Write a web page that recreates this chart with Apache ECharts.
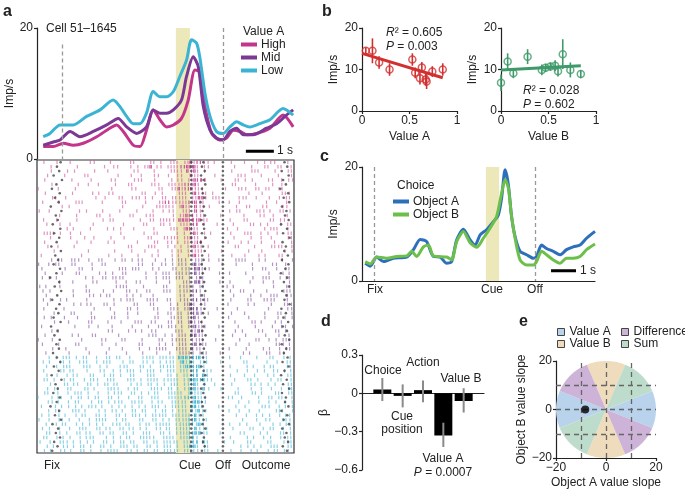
<!DOCTYPE html>
<html><head><meta charset="utf-8">
<script src="https://cdn.jsdelivr.net/npm/echarts@6/dist/echarts.min.js"></script>
<style>html,body{margin:0;padding:0;background:#fff}#c{width:685px;height:490px}</style>
</head><body><div id="c"></div>
<script>
// ---------------- Panel a: PSTH (time s from Fix, firing rate imp/s) ----------------
const psthHigh = [[-0.67,1.9],[-0.31,1.9],[0.05,2.4],[0.40,2.1],[0.76,2.4],[1.24,3.4],[1.71,4.7],[1.95,5.2],[2.19,4.2],[2.55,2.1],[2.79,1.9],[3.02,4.4],[3.26,7.5],[3.5,6.0],[3.74,4.9],[3.98,5.2],[4.27,6.2],[4.51,9.0],[4.75,13.6],[4.93,13.3],[5.11,8.0],[5.35,3.9],[5.64,2.9],[5.88,3.2],[6.12,4.4],[6.36,4.2],[6.6,3.7],[6.95,3.9],[7.43,4.7],[7.9,6.7],[8.26,4.9]];
const psthMid = [[-0.67,2.1],[-0.31,2.6],[-0.07,2.9],[0.29,4.2],[0.64,3.4],[1.12,4.2],[1.60,5.2],[2.01,6.2],[2.31,4.9],[2.67,3.9],[3.02,4.9],[3.26,7.5],[3.5,7.0],[3.74,7.0],[3.98,7.5],[4.27,9.0],[4.45,12.6],[4.69,15.6],[4.87,14.1],[5.05,8.0],[5.29,4.4],[5.52,3.2],[5.76,2.9],[6.0,4.2],[6.24,4.7],[6.48,3.7],[6.83,3.7],[7.31,4.7],[7.67,5.4],[8.02,6.7],[8.26,7.5]];
const psthLow = [[-0.67,3.4],[-0.43,3.9],[-0.07,5.2],[0.40,5.2],[0.88,6.5],[1.36,7.5],[1.83,9.0],[2.07,8.0],[2.31,6.5],[2.55,5.4],[2.79,5.4],[3.02,7.0],[3.26,10.3],[3.5,9.5],[3.74,9.5],[3.98,10.3],[4.21,12.6],[4.45,15.1],[4.63,18.2],[4.81,17.7],[4.93,15.4],[5.11,10.0],[5.29,6.5],[5.52,4.2],[5.76,3.9],[6.0,4.9],[6.24,5.7],[6.48,5.2],[6.71,4.9],[7.07,5.4],[7.43,6.0],[7.9,7.7],[8.26,6.7]];
const eventsA = {fix:0, cueStart:4.07, cue:4.57, off:5.75};
const scaleBarA = [[6.57,1.2],[7.57,1.2]];

// Raster: spike counts per 1/7-s bin (64 bins from -0.893 s), one string per trial
const rasterHigh = [
"01000100 10000110 00100001 10001110 01111121 21101000 10010001 10110010",
"00010000 00100000 10011001 01112011 11112232 11100000 01000100 11001101",
"10010001 01000010 01000000 11000100 01111212 11000000 10000111 00010011",
"00100010 00011000 00001001 00100110 10011021 10001000 00111000 10001001",
"01000000 10000100 00110000 11100100 01011112 22100010 01101100 01100111",
"00010000 00101001 00010011 00001110 11111212 10000000 11000010 00100100",
"10000100 01000000 00100001 10000011 01121221 11000001 00111011 01101100",
"00100000 10000101 01100000 00110101 00011112 11110000 00000100 10000111",
"00011001 00000010 01001101 11011001 11111111 22111100 00111010 00101011",
"01000100 01110000 10000110 00010011 21111122 11000100 10100000 01010010",
"00000010 10000000 00000100 00100111 11112112 11010000 01001100 11000110",
"10010000 00101000 10001000 10000101 01101112 10000000 11100011 10101101",
"00000100 01000011 00100001 10011100 00111221 11000100 00010001 10010010",
"01001000 01000000 10110000 01001111 11122222 21100000 10011000 00111100",
"00100100 10000010 00000100 00110011 01011112 11000100 01000111 01001011",
"00000001 01000100 01011000 10000100 01111221 10000001 00100000 10111010",
"11111100 10100000 00001000 00100110 00011012 11010000 10011100 11001011",
"00010000 10010010 00100100 00011001 11111121 11000000 01000100 10100011",
"01000000 00100100 01010000 01000110 11011111 21000001 00011000 10010001",
"00100100 01000000 00000011 00011100 10101112 11100000 01100010 00111101",
"00001000 00001000 00010001 00100010 01011111 11000010 00001000 10000011",
"01000000 00010000 01000100 01001010 01010112 10100000 10001001 01001100"];
const rasterMid = [
"00010110 11101001 10010111 01100100 11011101 11100100 01111001 01000101",
"10101100 11000100 11000000 01101001 11011112 11000010 01000100 00110010",
"01000001 00110100 00001111 11001010 01101112 21110000 00000100 11010011",
"00100010 01100001 01100110 00010101 11111112 11000100 10001000 00100101",
"01011000 00001100 11111100 00010101 11111011 11000000 00000010 11101011",
"00000100 10000110 00010010 11000100 01001112 21000100 10000100 10010001",
"10100100 00001000 00011110 00100001 10011111 11000001 01000000 00010011",
"01010000 01001100 10010011 10011001 11011112 10000000 10110010 01000111",
"00100000 01000111 01100010 11000100 00011011 11000000 01000101 00111011",
"01010101 00001000 00011011 10011110 11011102 11100000 10001100 11110010",
"00100000 01101100 11010000 11001100 01011121 11000001 00001010 00100111",
"01000010 00000010 00100011 01000110 01111122 11000100 00100000 01000011",
"10001000 11000100 00010010 01000010 11011112 11100000 10010000 10001101",
"01010010 00100110 00110010 00000110 01111112 10000001 00001000 01001011",
"00001001 00001100 01000100 11101100 11011121 11000000 01000110 10010100",
"01000000 01001001 00100001 00010011 11101112 11100100 00100010 00100111",
"00010100 00000000 01100010 10101100 00111011 21000000 01010001 10011010",
"00100000 10100110 00001000 00011100 11011122 11000000 10001000 01001001",
"10010000 00010000 11000110 00100011 01111111 11001000 00100011 00110111",
"01000100 01100000 10010000 01100010 11011112 11100000 01000100 00011101",
"00010001 00001000 00100100 01001111 10111121 10000000 10001000 10101011",
"00100000 10000100 01000010 00100100 01011111 11100100 00010100 01101100"];
const rasterLow = [
"00011011 11011010 01111001 00111111 11122222 21100000 10100010 00110101",
"01010110 10111010 11100101 10110110 11112121 11100100 00011000 01001011",
"00101011 10011101 01001110 01101011 11111222 21000000 10001010 10110011",
"01000110 11001001 10011011 11011110 11111112 11110000 00101001 10011101",
"00100101 01100110 10111001 10011100 11011112 12100000 10010010 01010011",
"01101010 11010111 01110011 11011111 11111122 22110000 01001101 00101101",
"10010011 01101101 11011001 01111011 01111112 11001000 10000110 11010011",
"00101101 10011010 01111010 11001111 11011122 12100010 00100100 10100111",
"01100101 01111001 01011101 10110110 11111121 11000000 01100110 10011011",
"10010110 10111011 01101010 01101110 11111212 11100001 10010001 01101101",
"00110101 01100101 11011101 11101011 01111112 21100000 00101001 00110011",
"01001011 01011110 10101011 01011110 11111122 11000100 01001000 11101011",
"00101100 11101001 01110101 10110101 11011121 21100000 10100101 00011101",
"01100101 01011011 01011011 11011111 11111112 11000000 01001010 10101011",
"10010110 10100111 11010110 01101101 01111122 11100010 00010010 01100111",
"00101011 01010110 10111011 01011111 11111121 21000000 10101001 00011011",
"01010100 10111011 01101101 11010110 11111112 11100000 01000110 10110101",
"00110101 01101101 10110110 10111011 01111122 21100100 00110001 01001101",
"01101010 10101110 01011011 01111101 11111121 11000000 10001010 10101011",
"10010111 01101010 11011101 10110111 11111112 12100010 01001100 01100111",
"00101011 01110101 10101110 11011011 11011122 11100000 00101010 10111011",
"01010110 10110101 01111011 01110111 11111111 11100100 10010101 01011110"];
// per-trial event times (s)
const fixDots = [-0.05,-0.18,-0.1,-0.3,0.0,-0.2,-0.36,-0.08,-0.25,-0.12,-0.4,-0.02,-0.22,-0.15,-0.33,-0.06,-0.28,-0.1,-0.19,-0.38,-0.04,-0.24,
 -0.14,-0.3,-0.07,-0.2,-0.42,-0.1,-0.26,-0.03,-0.17,-0.35,-0.09,-0.21,-0.13,-0.3,-0.05,-0.39,-0.16,-0.27,-0.08,-0.2,-0.11,-0.32,
 -0.18,-0.06,-0.29,-0.12,-0.37,-0.02,-0.23,-0.15,-0.31,-0.08,-0.19,-0.41,-0.1,-0.25,-0.04,-0.34,-0.14,-0.22,-0.07,-0.28,-0.16,-0.35];
const respDots = [5.05,5.0,5.1,4.97,5.06,5.12,5.0,5.03,5.09,4.95,5.07,5.02,5.11,4.98,5.05,5.08,5.0,5.13,4.96,5.04,5.1,5.01,
 5.06,4.99,5.11,5.03,4.96,5.08,5.02,5.12,5.0,5.05,4.97,5.09,5.04,5.1,4.98,5.06,5.01,5.13,5.03,4.95,5.07,5.0,
 5.04,5.1,4.98,5.06,5.12,5.01,5.08,4.97,5.05,5.11,5.0,5.03,5.09,4.96,5.06,5.02,5.12,4.99,5.07,5.04,5.1,5.0];
const outDots = [7.95,8.05,7.85,8.1,7.9,8.0,7.8,8.08,7.92,8.12,7.86,8.02,7.97,8.1,7.83,8.04,7.9,8.13,7.88,8.0,7.94,8.07,
 7.86,8.09,7.98,7.82,8.05,7.93,8.11,7.87,8.02,7.95,8.13,7.84,8.0,7.91,8.08,7.89,8.04,7.96,8.12,7.85,8.01,7.93,
 8.06,7.88,8.1,7.95,7.83,8.03,7.9,8.12,7.86,8.0,7.97,8.09,7.84,8.05,7.92,8.11,7.87,8.02,7.96,8.08,7.89,8.04];

// ---------------- Panel b ----------------
const valueAx = [0.04,0.11,0.18,0.29,0.53,0.56,0.63,0.61,0.67,0.68,0.74,0.85];
const valueAy = [14.5,14.5,11.7,10.0,12.4,9.2,10.5,7.9,7.6,7.1,9.5,10.0];
const valueAerr = [0.8,3.0,1.5,1.5,1.5,1.3,1.3,1.5,1.5,1.8,1.3,1.5];
const fitA = [[0,13.9],[0.85,8.0]];
const valueBx = [0.0,0.07,0.13,0.28,0.43,0.47,0.52,0.57,0.6,0.65,0.73,0.84];
const valueBy = [6.8,11.9,9.1,13.1,9.9,10.4,10.7,10.9,9.6,13.7,9.9,8.9];
const valueBerr = [2.0,2.0,1.2,1.8,1.3,1.0,1.0,1.3,1.3,3.6,1.8,1.0];
const fitB = [[0,9.9],[0.84,10.9]];

// ---------------- Panel c ----------------
const choiceA = [[-0.37,3.1],[-0.17,2.6],[0.09,4.2],[0.36,3.4],[0.76,4.0],[1.29,4.2],[1.56,5.5],[1.83,7.3],[2.09,6.9],[2.36,4.3],[2.63,4.2],[2.89,3.1],[3.09,3.4],[3.29,7.2],[3.56,9.1],[3.83,7.2],[4.03,6.3],[4.23,8.1],[4.49,9.0],[4.76,10.4],[4.96,11.6],[5.09,14.5],[5.23,19.5],[5.36,16.9],[5.49,11.3],[5.63,7.8],[5.83,5.2],[6.09,4.6],[6.36,4.0],[6.49,4.3],[6.69,6.3],[6.89,5.7],[7.16,5.2],[7.43,4.6],[7.69,5.5],[7.96,6.0],[8.23,6.3],[8.49,7.5],[8.83,8.7]];
const choiceB = [[-0.37,3.4],[-0.17,3.0],[0.09,4.2],[0.49,4.0],[0.89,4.3],[1.29,4.4],[1.49,5.2],[1.69,4.3],[1.96,6.0],[2.16,6.3],[2.36,4.4],[2.89,4.2],[3.09,3.7],[3.29,6.9],[3.56,8.7],[3.83,6.7],[4.09,5.9],[4.36,7.5],[4.63,9.3],[4.89,11.3],[5.09,15.4],[5.23,17.8],[5.36,16.3],[5.49,11.3],[5.63,7.5],[5.83,3.7],[6.09,2.8],[6.36,2.8],[6.49,3.4],[6.69,5.2],[6.89,4.6],[7.16,3.7],[7.43,3.1],[7.69,4.0],[7.96,4.0],[8.23,4.3],[8.49,5.5],[8.83,6.5]];
const eventsC = {fix:0, cueStart:4.46, cue:4.99, off:6.43};
const scaleBarC = [[7.07,1.8],[8.07,1.8]];

// ---------------- Panel d ----------------
const regressors = ['Choice','Cue position','Action','Value A','Value B'];
const betas = [0.03,-0.02,0.025,-0.33,-0.06];
const betaLo = [-0.06,-0.11,-0.07,-0.42,-0.15];
const betaHi = [0.12,0.07,0.10,-0.23,0.04];

// ---------------- Panel e ----------------
const sectorNames = ['Value A','Value B','Difference','Sum'];
const sectorCenters = [[0,180],[90,270],[135,315],[45,225]];
const sectorColors = ['#b9d3ec','#eedcbc','#cdb3d8','#bedccb'];
const circleRadius = 20;
const cellPoint = [[-8.3,0]];

// ================= build =================
const FONT = '"Liberation Sans", Arial, sans-serif';
const INK = '#222';
const minus = v => (v < 0 ? '\u2212' + String(Math.abs(+v.toFixed(3))) : String(+(+v).toFixed(3)));

const BIN0 = -0.893, BINW = 1/7;
const rasterColors = ['#c94e9a','#84509f','#3fb2d4'];
const spikes = [];
let row = 0;
[rasterHigh, rasterMid, rasterLow].forEach((rows, g) => rows.forEach(s => {
  const str = s.replace(/\s/g, '');
  for (let b = 0; b < str.length; b++) {
    const n = +str[b];
    for (let k = 0; k < n; k++) {
      // place the k-th spike of a bin inside that bin (layout only, deterministic)
      const h = Math.imul(row * 131 + b * 977 + k * 71 + 17, 2654435761) >>> 0;
      const slot = (k + ((h >>> 8) % 1000) / 1000) / n;
      spikes.push([BIN0 + (b + slot) * BINW, row + 0.5, g, n]);
    }
  }
  row++;
}));
const nRows = row;
const eventDots = [];
for (let i = 0; i < nRows; i++) {
  eventDots.push([fixDots[i], i + 0.5], [respDots[i], i + 0.5], [outDots[i], i + 0.5],
                 [eventsA.cue + 0.05, i + 0.5], [eventsA.off, i + 0.5]);
}

function xAx(grid, o) {
  return Object.assign({
    gridIndex: grid, type: 'value', splitLine: {show: false},
    axisLine: {show: true, onZero: false, lineStyle: {color: INK, width: 1.2}},
    axisTick: {show: true, length: 3, lineStyle: {color: INK, width: 1.2}},
    axisLabel: {color: INK, fontSize: 12, fontFamily: FONT, margin: 4},
    nameLocation: 'middle', nameTextStyle: {color: INK, fontSize: 12, fontFamily: FONT}
  }, o);
}
function yAx(grid, o) {
  return Object.assign({
    gridIndex: grid, type: 'value', splitLine: {show: false},
    axisLine: {show: true, onZero: false, lineStyle: {color: INK, width: 1.2}},
    axisTick: {show: true, length: 3, lineStyle: {color: INK, width: 1.2}},
    axisLabel: {color: INK, fontSize: 12, fontFamily: FONT, margin: 4},
    nameLocation: 'middle', nameTextStyle: {color: INK, fontSize: 12, fontFamily: FONT}
  }, o);
}
const hidden = {show: false};

function errRender(color, w) {
  return function (params, api) {
    const a = api.coord([api.value(0), api.value(1)]);
    const b = api.coord([api.value(0), api.value(2)]);
    return {type: 'line', shape: {x1: a[0], y1: a[1], x2: b[0], y2: b[1]},
            style: {stroke: color, lineWidth: w}};
  };
}
function bandSeries(x, y, ev, top) {
  return {
    type: 'line', xAxisIndex: x, yAxisIndex: y, data: [], z: 1, silent: true,
    markArea: {silent: true, itemStyle: {color: '#ece8b9'}, data: [[{xAxis: ev.cueStart}, {xAxis: ev.cue}]]},
    markLine: {silent: true, symbol: ['none','none'], label: {show: false},
      lineStyle: {color: '#999', type: [4,3], width: 1.3},
      data: [[{coord: [ev.fix, top]}, {coord: [ev.fix, 0]}], [{coord: [ev.off, 20]}, {coord: [ev.off, 0]}]]}
  };
}
function lineS(name, data, color, x, y, w) {
  return {name, type: 'line', xAxisIndex: x, yAxisIndex: y, data, showSymbol: false, smooth: 0.25,
          lineStyle: {color, width: w}, itemStyle: {color}, z: 3, silent: true};
}

const sectorSeries = sectorNames.map((nm, si) => ({
  name: nm, type: 'custom', xAxisIndex: 6, yAxisIndex: 6, z: 1, silent: true,
  itemStyle: {color: sectorColors[si]},
  data: sectorCenters[si].map(c => [c]),
  renderItem: function (params, api) {
    const c = api.value(0);
    const pts = [api.coord([0, 0])];
    for (let a = c - 22.5; a <= c + 22.5 + 1e-6; a += 1.5) {
      const r = a * Math.PI / 180;
      pts.push(api.coord([circleRadius * Math.cos(r), circleRadius * Math.sin(r)]));
    }
    return {type: 'polygon', shape: {points: pts}, style: {fill: sectorColors[si]}};
  }
}));

function txt(text, x, y, o) {
  return {type: 'text', silent: true, style: Object.assign({text, x, y, fill: INK, fontSize: 12, fontFamily: FONT,
    align: 'left', verticalAlign: 'middle'}, o || {})};
}
const rich = {i: {fontStyle: 'italic', fontSize: 12, fontFamily: FONT, fill: INK}};

const option = {
  backgroundColor: '#fff',
  animation: false,
  grid: [
    {left: 37, top: 28, width: 257, height: 131},
    {left: 37, top: 160, width: 257, height: 293, show: true, borderColor: '#333', borderWidth: 1.2, backgroundColor: 'transparent'},
    {left: 362, top: 28, width: 95, height: 83},
    {left: 501, top: 28, width: 95, height: 83},
    {left: 362, top: 167, width: 233, height: 114},
    {left: 362, top: 355, width: 122, height: 115},
    {left: 556, top: 361, width: 100, height: 97}
  ],
  xAxis: [
    xAx(0, {min: -0.893, max: 8.29, show: false}),
    xAx(1, {min: -0.893, max: 8.29, show: false}),
    xAx(2, {min: 0, max: 1, interval: 0.5, name: 'Value A', nameGap: 20}),
    xAx(3, {min: 0, max: 1, interval: 0.5, name: 'Value B', nameGap: 20}),
    xAx(4, {min: -0.5, max: 8.83, axisTick: hidden, axisLabel: hidden}),
    xAx(5, {min: 0, max: 6, axisLine: {show: true, onZero: true, lineStyle: {color: INK, width: 1.2}}, axisTick: hidden, axisLabel: hidden}),
    xAx(6, {min: -20, max: 20, interval: 20, name: 'Object A value slope', nameGap: 19,
            axisLabel: {color: INK, fontSize: 12, fontFamily: FONT, margin: 4, formatter: minus}})
  ],
  yAxis: [
    yAx(0, {min: 0, max: 20, interval: 20, name: 'Imp/s', nameGap: 21}),
    yAx(1, {min: 0, max: nRows, inverse: true, show: false}),
    yAx(2, {min: 0, max: 20, interval: 10, name: 'Imp/s', nameGap: 22}),
    yAx(3, {min: 0, max: 20, interval: 10, name: 'Imp/s', nameGap: 22}),
    yAx(4, {min: 0, max: 20, interval: 20, name: 'Imp/s', nameGap: 22}),
    yAx(5, {min: -0.6, max: 0.3, interval: 0.3, name: '\u03b2', nameGap: 32,
            axisLabel: {color: INK, fontSize: 12, fontFamily: FONT, margin: 4, formatter: minus}}),
    yAx(6, {min: -20, max: 20, interval: 20, name: 'Object B value slope', nameGap: 26,
            axisLabel: {color: INK, fontSize: 12, fontFamily: FONT, margin: 4, formatter: minus}})
  ],
  legend: [
    {data: ['High','Mid','Low'], left: 241, top: 38, orient: 'vertical', padding: 0, itemGap: 0,
     itemWidth: 16, itemHeight: 4, icon: 'rect', selectedMode: false,
     textStyle: {color: INK, fontSize: 12, fontFamily: FONT, lineHeight: 13, padding: [0,0,0,-1]}},
    {data: ['Object A','Object B'], left: 393, top: 195, orient: 'vertical', padding: 0, itemGap: 0,
     itemWidth: 16, itemHeight: 4, icon: 'rect', selectedMode: false,
     textStyle: {color: INK, fontSize: 12, fontFamily: FONT, lineHeight: 13, padding: [0,0,0,-1]}},
    {data: ['Value A','Value B'], left: 557, top: 326, orient: 'vertical', padding: 0, itemGap: 0,
     itemWidth: 7, itemHeight: 7, icon: 'rect', selectedMode: false, itemStyle: {borderColor: '#444', borderWidth: 1},
     textStyle: {color: INK, fontSize: 12, fontFamily: FONT, lineHeight: 12}},
    {data: ['Difference','Sum'], left: 621, top: 326, orient: 'vertical', padding: 0, itemGap: 0,
     itemWidth: 7, itemHeight: 7, icon: 'rect', selectedMode: false, itemStyle: {borderColor: '#444', borderWidth: 1},
     textStyle: {color: INK, fontSize: 12, fontFamily: FONT, lineHeight: 12}}
  ],
  series: [
    // panel a PSTH
    bandSeries(0, 0, eventsA, 17.5),
    lineS('High', psthHigh, '#c2358b', 0, 0, 3),
    lineS('Mid', psthMid, '#7b3895', 0, 0, 3),
    lineS('Low', psthLow, '#3ab4d2', 0, 0, 3),
    {type: 'line', xAxisIndex: 0, yAxisIndex: 0, data: scaleBarA, showSymbol: false, silent: true,
     lineStyle: {color: '#000', width: 3}, z: 4},
    // raster
    {type: 'line', xAxisIndex: 1, yAxisIndex: 1, data: [], z: 1, silent: true,
     markArea: {silent: true, itemStyle: {color: '#ece8b9'}, data: [[{xAxis: eventsA.cueStart}, {xAxis: eventsA.cue}]]}},
    {type: 'custom', xAxisIndex: 1, yAxisIndex: 1, data: spikes, z: 2, silent: true, clip: true,
     renderItem: function (params, api) {
       const p = api.coord([api.value(0), api.value(1)]);
       const g = api.value(2);
       return {type: 'rect', shape: {x: p[0] - 0.6, y: p[1] - 1.75, width: 1.2, height: 3.5},
               style: {fill: rasterColors[g], opacity: api.value(3) > 1 ? 0.95 : 0.6}};
     }},
    {type: 'scatter', xAxisIndex: 1, yAxisIndex: 1, data: eventDots, symbolSize: 2.6, silent: true, z: 3,
     itemStyle: {color: '#444'}},
    // panel b
    {type: 'custom', xAxisIndex: 2, yAxisIndex: 2, z: 2, silent: true,
     data: valueAx.map((x, i) => [x, valueAy[i] - valueAerr[i], valueAy[i] + valueAerr[i]]), renderItem: errRender('#d2302f', 1.6)},
    {type: 'scatter', xAxisIndex: 2, yAxisIndex: 2, data: valueAx.map((x, i) => [x, valueAy[i]]), symbol: 'circle',
     symbolSize: 7, silent: true, z: 3, itemStyle: {color: 'rgba(255,255,255,0)', borderColor: '#d2302f', borderWidth: 1.5}},
    {type: 'line', xAxisIndex: 2, yAxisIndex: 2, data: fitA, showSymbol: false, silent: true, z: 2,
     lineStyle: {color: '#d2302f', width: 3}},
    {type: 'custom', xAxisIndex: 3, yAxisIndex: 3, z: 2, silent: true,
     data: valueBx.map((x, i) => [x, valueBy[i] - valueBerr[i], valueBy[i] + valueBerr[i]]), renderItem: errRender('#3f9a6a', 1.6)},
    {type: 'scatter', xAxisIndex: 3, yAxisIndex: 3, data: valueBx.map((x, i) => [x, valueBy[i]]), symbol: 'circle',
     symbolSize: 7, silent: true, z: 3, itemStyle: {color: 'rgba(255,255,255,0)', borderColor: '#3f9a6a', borderWidth: 1.5}},
    {type: 'line', xAxisIndex: 3, yAxisIndex: 3, data: fitB, showSymbol: false, silent: true, z: 2,
     lineStyle: {color: '#3f9a6a', width: 3}},
    // panel c
    bandSeries(4, 4, eventsC, 20),
    lineS('Object A', choiceA, '#2e6fbc', 4, 4, 3),
    lineS('Object B', choiceB, '#6cbf4a', 4, 4, 3),
    {type: 'line', xAxisIndex: 4, yAxisIndex: 4, data: scaleBarC, showSymbol: false, silent: true,
     lineStyle: {color: '#000', width: 3}, z: 4},
    // panel d
    {type: 'bar', xAxisIndex: 5, yAxisIndex: 5, data: betas.map((b, i) => [i + 1, b]), barWidth: 18, silent: true, z: 2,
     itemStyle: {color: '#000'}},
    {type: 'custom', xAxisIndex: 5, yAxisIndex: 5, z: 3, silent: true,
     data: betas.map((b, i) => [i + 1, betaLo[i], betaHi[i]]), renderItem: errRender('#8a8a8a', 2)},
    // panel e
    ...sectorSeries,
    {type: 'scatter', xAxisIndex: 6, yAxisIndex: 6, data: cellPoint, symbolSize: 8, silent: true, z: 5,
     itemStyle: {color: '#000'},
     markLine: {silent: true, symbol: ['none','none'], label: {show: false},
       lineStyle: {color: '#666', type: [5,4], width: 1.3},
       data: [{xAxis: -10}, {xAxis: 0}, {xAxis: 10}, {yAxis: -10}, {yAxis: 0}, {yAxis: 10}]}}
  ],
  graphic: [
    txt('a', 3, 12, {fontSize: 16, fontWeight: 'bold'}),
    txt('b', 322, 12, {fontSize: 16, fontWeight: 'bold'}),
    txt('c', 320, 157, {fontSize: 16, fontWeight: 'bold'}),
    txt('d', 321, 322, {fontSize: 16, fontWeight: 'bold'}),
    txt('e', 519, 322, {fontSize: 16, fontWeight: 'bold'}),
    txt('Cell 51\u20131645', 46, 29),
    txt('Value A', 243, 32),
    txt('1 s', 277, 151),
    txt('Fix', 52, 466, {align: 'center'}),
    txt('Cue', 190, 466, {align: 'center'}),
    txt('Off', 223, 466, {align: 'center'}),
    txt('Outcome', 266, 466, {align: 'center'}),
    txt('{i|R}\u00b2 = 0.605', 386, 33, {rich}),
    txt('{i|P} = 0.003', 386, 47, {rich}),
    txt('{i|R}\u00b2 = 0.028', 523, 91, {rich}),
    txt('{i|P} = 0.602', 523, 105, {rich}),
    txt('Choice', 397, 186),
    txt('1 s', 580, 271),
    txt('Fix', 375, 290, {align: 'center'}),
    txt('Cue', 492, 290, {align: 'center'}),
    txt('Off', 535, 290, {align: 'center'}),
    txt('Choice', 383, 371, {align: 'center'}),
    txt('Action', 423, 363, {align: 'center'}),
    txt('Value B', 461, 379, {align: 'center'}),
    txt('Cue', 402, 417, {align: 'center'}),
    txt('position', 402, 430, {align: 'center'}),
    txt('Value A', 443, 459, {align: 'center'}),
    txt('{i|P} = 0.0007', 443, 473, {align: 'center', rich})
  ]
};
const chart = echarts.init(document.getElementById('c'), null, {renderer: 'canvas'});
chart.setOption(option);
</script></body></html>
